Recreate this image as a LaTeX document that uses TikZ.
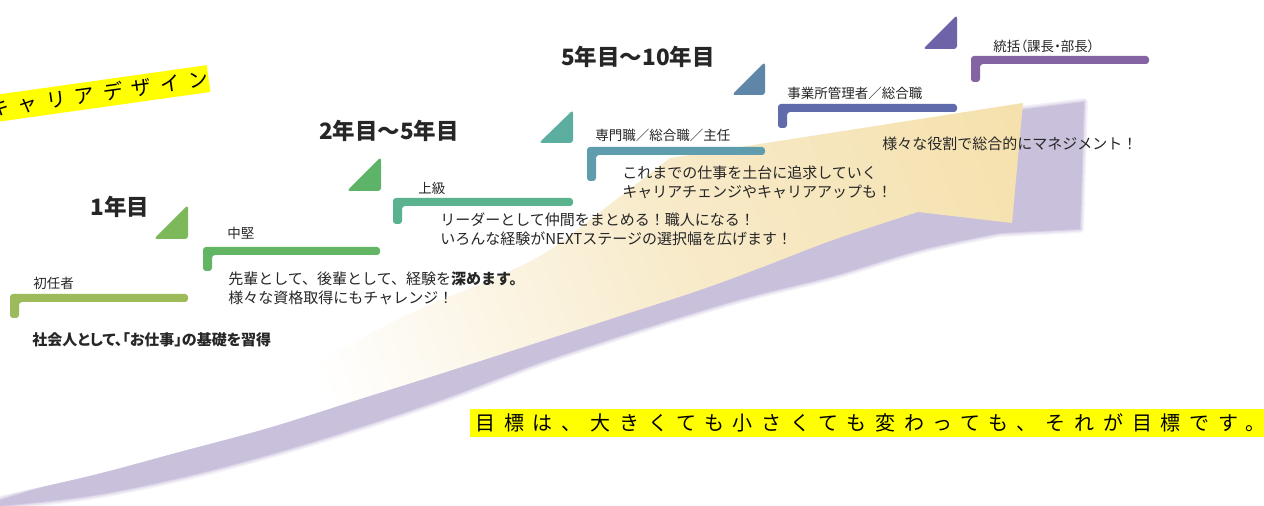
\documentclass[tikz,border=0pt]{standalone}
\usepackage{fontspec}
\setmainfont{Noto Sans CJK JP}
\newfontfamily\jpp[RawFeature=+palt]{Noto Sans CJK JP}
\newfontfamily\handfont[LetterSpace=44]{Noto Sans CJK JP}
\definecolor{textc}{HTML}{262626}
\definecolor{arrowmid}{HTML}{F8EBCB}
\definecolor{arrowtan}{HTML}{F2D995}
\definecolor{shadowc}{HTML}{C9C0DC}
\definecolor{hiyellow}{HTML}{FFFF00}
\definecolor{tA}{HTML}{7DB85A}
\definecolor{tB}{HTML}{5DB468}
\definecolor{tC}{HTML}{5BAEA0}
\definecolor{tD}{HTML}{5F86A8}
\definecolor{tE}{HTML}{6E62A8}
\definecolor{bA}{HTML}{9DBB5B}
\definecolor{bB}{HTML}{62B563}
\definecolor{bC}{HTML}{5BB28E}
\definecolor{bD}{HTML}{5F9CAD}
\definecolor{bE}{HTML}{5F6BAB}
\definecolor{bF}{HTML}{8464A3}
\pgfdeclarehorizontalshading{arrowshade}{100bp}{color(0bp)=(white); color(38bp)=(white); color(60bp)=(arrowmid); color(100bp)=(arrowtan)}
\newcommand\stepbar[5]{\fill[#5, rounded corners=1.5pt] (#1,#3) -- (#2,#3) -- (#2,#3+8) -- (#1+9,#3+8) -- (#1+9,#4) -- (#1,#4) -- cycle;}
\newcommand\steptri[5]{\fill[#5, rounded corners=1.5pt] (#1,#3) -- (#2,#3) -- (#2,#4) -- cycle;}
\def\shadowpath{plot[smooth, tension=0.6] coordinates {(0,506) (89,496) (179,478) (268,455) (357,428) (446,398) (536,364) (620,336) (700,311) (760,294) (833,276) (920,250) (1000,233)} -- (1080,229) -- (1084,102) -- (1020,110) -- (900,150) -- (700,215) -- (560,275) -- (400,345) -- (200,440) -- (0,500) -- cycle}
\tikzset{
  head/.style={font=\fontsize{11.25}{13}\selectfont\bfseries, text=textc, inner sep=0pt},
  lbl/.style={font=\fontsize{6.75}{8}\selectfont, text=textc, anchor=west, inner sep=0pt},
  desc/.style={font=\fontsize{7.5}{9.5}\selectfont, text=textc, anchor=west, align=left, inner sep=0pt},
  hand/.style={font=\handfont\fontsize{10}{12}\selectfont, text=black, inner sep=0pt},
}
\begin{document}
\begin{tikzpicture}[x=0.5pt, y=-0.5pt]
\path[use as bounding box, fill=white] (0,0) rectangle (1264,506);
\clip (0,0) rectangle (1264,506);
% shadow of the big arrow
\draw[shadowc, opacity=0.2, line width=4pt, line join=round] \shadowpath;
\draw[shadowc, opacity=0.3, line width=2.5pt, line join=round] \shadowpath;
\draw[shadowc, opacity=0.5, line width=1pt, line join=round] \shadowpath;
\fill[shadowc] \shadowpath;
% big arrow
\shade[shading=arrowshade, shading angle=21]
  plot[smooth, tension=0.6] coordinates {(-10,500) (150,438) (300,370) (407,315) (490,280) (545,253) (600,212) (670,158)}
  -- (1023,103) -- (1012,223) -- (918,212)
  -- plot[smooth, tension=0.6] coordinates {(918,212) (833,240) (760,268) (700,290) (620,316) (536,343) (446,372) (357,400) (268,428) (179,452) (89,476) (-10,498)}
  -- cycle;
% steps
\stepbar{10}{188}{294}{318}{bA}
\stepbar{203}{380}{247}{271}{bB}
\stepbar{393}{573}{198}{224}{bC}
\stepbar{587}{765}{147}{181}{bD}
\stepbar{778}{957}{104}{128}{bE}
\stepbar{971}{1149}{56}{82}{bF}
\steptri{154}{188}{239}{205}{tA}
\steptri{347}{381}{191}{157}{tB}
\steptri{539}{573}{143}{110}{tC}
\steptri{732}{765}{95}{62}{tD}
\steptri{923}{957}{49}{15}{tE}
% labels
\node[lbl] (l1) at (33,283) {初任者};
\node[lbl] (l2) at (227,233) {中堅};
\node[lbl] (l3) at (418,188) {上級};
\node[lbl] (l4) at (595,135) {専門職／総合職／主任};
\node[lbl] (l5) at (787,93) {事業所管理者／総合職};
\node[lbl] (l6) at (993,46) {\jpp 統括（課長・部長）};
% headings
\node[head] (h1) at (120,207) {1年目};
\node[head] (h2) at (389,131) {2年目～5年目};
\node[head] (h3) at (638,57) {5年目～10年目};
% descriptions
\node[desc, font=\fontsize{7.5}{9.5}\selectfont\bfseries\jpp] (d1) at (32,340) {社会人として、「お仕事」の基礎を習得};
\node[desc] (d2) at (228,288) {先輩として、後輩として、経験を{\bfseries 深めます。}\\様々な資格取得にもチャレンジ！};
\node[desc] (d3) at (440,229) {リーダーとして仲間をまとめる！職人になる！\\いろんな経験がNEXTステージの選択幅を広げます！};
\node[desc] (d4) at (622,182.5) {これまでの仕事を土台に追求していく\\キャリアチェンジやキャリアアップも！};
\node[desc] (d5) at (882,144) {様々な役割で総合的にマネジメント！};
% handwritten bands
\node[hand, fill=hiyellow, rotate=8, anchor=east, inner xsep=0pt, minimum height=13.5pt] (design) at (209,78.5) {キャリアデザイン};
\fill[hiyellow] (470,409) rectangle (1270,437);
\node[hand, anchor=west] (goal) at (475,423) {目標は、大きくても小さくても変わっても、それが目標です。};
\end{tikzpicture}
\end{document}
